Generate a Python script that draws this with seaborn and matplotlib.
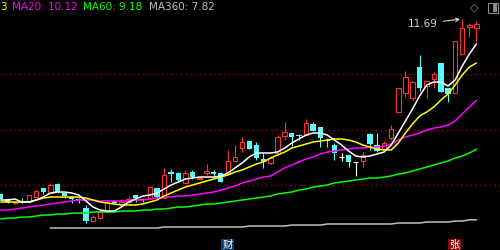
import numpy as np
import pandas as pd
import matplotlib
matplotlib.use("Agg")
import matplotlib.pyplot as plt
import seaborn as sns
from matplotlib.patches import Rectangle

# ---------------- data ----------------
opens = [8.318, 8.221, 8.144, 8.183, 8.163, 8.260, 8.433, 8.337, 8.510, 8.337,
         8.260, 8.221, 8.048, 7.797, 7.855, 7.990, 8.183, 8.125, 8.163, 8.298,
         8.230, 8.240, 8.433, 8.240, 8.733, 8.722, 8.530, 8.742, 8.607, 8.722,
         8.733, 8.722, 8.703, 8.954, 9.204, 9.339, 9.262, 8.992, 8.915, 9.108,
         9.435, 9.493, 9.464, 9.454, 9.667, 9.609, 9.350, 9.262, 9.040, 9.069,
         8.934, 8.954, 9.474, 9.262, 9.185, 9.397, 9.898, 10.264, 10.168, 10.765,
         10.399, 10.534, 10.842, 10.360, 10.264, 11.015, 11.536, 11.516]
highs = [8.337, 8.240, 8.183, 8.240, 8.298, 8.395, 8.433, 8.530, 8.530, 8.356,
         8.279, 8.240, 8.106, 7.913, 7.990, 8.163, 8.202, 8.221, 8.279, 8.298,
         8.240, 8.452, 8.433, 8.819, 8.799, 8.742, 8.780, 8.780, 8.645, 8.896,
         8.780, 8.742, 9.166, 9.262, 9.416, 9.339, 9.320, 9.127, 9.050, 9.454,
         9.705, 9.493, 9.474, 9.763, 9.705, 9.609, 9.397, 9.300, 9.108, 9.069,
         8.934, 9.127, 9.493, 9.493, 9.339, 9.647, 10.360, 10.688, 10.495, 10.996,
         10.495, 10.669, 10.842, 10.360, 11.266, 11.690, 11.613, 11.651]
lows = [8.202, 8.144, 8.125, 8.144, 8.163, 8.260, 8.318, 8.337, 8.337, 8.240,
        8.144, 8.144, 7.759, 7.797, 7.836, 7.990, 8.125, 8.125, 8.144, 8.163,
        8.163, 8.240, 8.240, 8.240, 8.549, 8.549, 8.530, 8.607, 8.588, 8.684,
        8.665, 8.549, 8.703, 8.954, 9.127, 9.185, 8.973, 8.819, 8.896, 9.108,
        9.358, 9.242, 9.358, 9.454, 9.532, 9.223, 9.223, 8.973, 8.960, 8.838,
        8.665, 8.838, 9.166, 9.127, 9.166, 9.358, 9.898, 10.187, 10.129, 10.302,
        10.168, 10.360, 10.283, 10.090, 10.264, 11.015, 11.343, 11.247]
closes = [8.221, 8.163, 8.163, 8.163, 8.298, 8.375, 8.356, 8.491, 8.356, 8.279,
          8.221, 8.202, 7.797, 7.874, 7.990, 8.163, 8.144, 8.163, 8.221, 8.240,
          8.210, 8.452, 8.260, 8.684, 8.713, 8.588, 8.722, 8.645, 8.626, 8.761,
          8.713, 8.549, 8.954, 9.031, 9.320, 9.185, 9.011, 8.934, 9.011, 9.416,
          9.512, 9.416, 9.445, 9.686, 9.532, 9.397, 9.330, 9.108, 9.040, 8.934,
          8.934, 9.069, 9.281, 9.146, 9.300, 9.570, 10.360, 10.572, 10.476, 10.360,
          10.495, 10.630, 10.283, 10.245, 11.266, 11.516, 11.574, 11.594]

ma5 = [8.202, 8.202, 8.221, 8.163, 8.163, 8.202, 8.260, 8.337, 8.356, 8.356,
       8.337, 8.298, 8.183, 8.067, 8.009, 7.990, 7.990, 8.067, 8.163, 8.221,
       8.279, 8.298, 8.337, 8.414, 8.491, 8.549, 8.607, 8.626, 8.645, 8.645,
       8.645, 8.665, 8.722, 8.819, 8.915, 9.031, 9.108, 9.108, 9.108, 9.127,
       9.204, 9.300, 9.378, 9.454, 9.493, 9.493, 9.454, 9.358, 9.262, 9.146,
       9.050, 9.031, 9.050, 9.088, 9.127, 9.262, 9.493, 9.724, 9.956, 10.206,
       10.418, 10.476, 10.476, 10.399, 10.514, 10.784, 11.015, 11.208]
ma10 = [8.163, 8.163, 8.163, 8.163, 8.163, 8.202, 8.240, 8.260, 8.260, 8.260,
        8.260, 8.260, 8.240, 8.202, 8.163, 8.144, 8.125, 8.106, 8.106, 8.106,
        8.125, 8.163, 8.202, 8.279, 8.337, 8.395, 8.452, 8.491, 8.530, 8.568,
        8.607, 8.645, 8.684, 8.742, 8.780, 8.838, 8.896, 8.934, 9.011, 9.069,
        9.127, 9.204, 9.242, 9.281, 9.320, 9.339, 9.358, 9.378, 9.378, 9.358,
        9.320, 9.262, 9.223, 9.185, 9.166, 9.166, 9.300, 9.493, 9.667, 9.821,
        9.898, 9.994, 10.129, 10.245, 10.418, 10.611, 10.765, 10.842]
ma20 = [8.009, 8.009, 8.028, 8.048, 8.067, 8.086, 8.106, 8.125, 8.144, 8.163,
        8.183, 8.202, 8.202, 8.202, 8.183, 8.183, 8.183, 8.183, 8.183, 8.202,
        8.202, 8.221, 8.240, 8.260, 8.260, 8.279, 8.279, 8.298, 8.318, 8.337,
        8.356, 8.395, 8.433, 8.472, 8.530, 8.568, 8.607, 8.645, 8.665, 8.742,
        8.819, 8.876, 8.934, 8.992, 9.031, 9.088, 9.127, 9.146, 9.166, 9.185,
        9.204, 9.204, 9.223, 9.223, 9.242, 9.281, 9.358, 9.416, 9.454, 9.493,
        9.551, 9.589, 9.609, 9.647, 9.724, 9.859, 9.994, 10.12]
ma60 = [7.836, 7.855, 7.855, 7.874, 7.874, 7.894, 7.913, 7.913, 7.932, 7.932,
        7.951, 7.951, 7.951, 7.971, 7.971, 7.971, 7.971, 7.990, 7.990, 7.990,
        8.009, 8.009, 8.028, 8.028, 8.048, 8.067, 8.067, 8.086, 8.106, 8.125,
        8.125, 8.144, 8.163, 8.183, 8.202, 8.221, 8.240, 8.260, 8.279, 8.318,
        8.337, 8.356, 8.395, 8.414, 8.452, 8.472, 8.491, 8.530, 8.549, 8.568,
        8.588, 8.607, 8.626, 8.626, 8.645, 8.665, 8.703, 8.722, 8.761, 8.799,
        8.838, 8.876, 8.915, 8.954, 9.011, 9.050, 9.108, 9.18]
ma360 = [np.nan] * 7 + [
        7.663, 7.663, 7.663, 7.663, 7.663, 7.663, 7.663, 7.663, 7.663, 7.663,
        7.663, 7.663, 7.663, 7.663, 7.663, 7.663, 7.682, 7.682, 7.682, 7.682,
        7.682, 7.682, 7.682, 7.682, 7.682, 7.682, 7.682, 7.682, 7.701, 7.701,
        7.701, 7.701, 7.701, 7.701, 7.720, 7.720, 7.720, 7.720, 7.720, 7.740,
        7.740, 7.740, 7.740, 7.740, 7.740, 7.740, 7.740, 7.740, 7.740, 7.759,
        7.759, 7.759, 7.759, 7.778, 7.778, 7.778, 7.778, 7.797, 7.797, 7.82, 7.82]

grid_levels = [10.63, 9.55, 8.49]
header_texts = ["3", "MA20: 10.12", "MA60: 9.18", "MA360: 7.82"]
peak_label = "11.69"
bottom_tags = ["财", "张"]

# ---------------- styling ----------------
sns.set_style("dark")
plt.rcParams["font.family"] = ["DejaVu Sans", "Noto Sans CJK SC"]

RED = "#ff3232"
CYAN = "#54fcfc"
BG = "black"

fig = plt.figure(figsize=(5, 2.5), dpi=100, facecolor=BG)
ax = fig.add_axes([0, 0, 1, 1])
ax.set_facecolor(BG)

n = len(closes)
idx = np.arange(n)
df = pd.DataFrame({"k": idx, "open": opens, "high": highs, "low": lows,
                   "close": closes, "ma5": ma5, "ma10": ma10, "ma20": ma20,
                   "ma60": ma60, "ma360": ma360})

# grid dotted lines
for lv in grid_levels:
    ax.axhline(lv, color="#b00000", lw=0.9, ls=(0, (1.2, 2.6)), zorder=1)

# candles
body_w = 0.64
for i, r in df.iterrows():
    o, h, l, c = r["open"], r["high"], r["low"], r["close"]
    if c > o:
        col = RED
    elif c < o:
        col = CYAN
    else:
        col = "white"
    ax.vlines(r["k"], l, h, color=col, lw=0.8, zorder=2)
    if c > o:
        ax.bar(r["k"], c - o, bottom=o, width=body_w, facecolor=BG,
               edgecolor=col, linewidth=0.8, zorder=3)
    elif c < o:
        ax.bar(r["k"], o - c, bottom=c, width=body_w + 0.1, facecolor=col,
               edgecolor=col, linewidth=0.0, zorder=3)
    else:
        ax.hlines(o, r["k"] - body_w / 2, r["k"] + body_w / 2, color=col,
                  lw=0.8, zorder=3)

# moving averages
line_specs = [("ma360", "#c0c0c0"), ("ma60", "#00ff00"), ("ma20", "#ff00ff"),
              ("ma10", "#ffff00"), ("ma5", "#ffffff")]
for col, colr in line_specs:
    sub = df[["k", col]].dropna()
    sns.lineplot(data=sub, x="k", y=col, color=colr, lw=1.1, ax=ax,
                 legend=False, zorder=4, estimator=None)

ax.set_xlim(-0.1, 70.32)
ax.set_ylim(7.239, 12.056)
ax.set_xticks([])
ax.set_yticks([])
ax.set_xlabel("")
ax.set_ylabel("")
for s in ax.spines.values():
    s.set_visible(False)
ax.grid(False)

# peak annotation
kmax = int(np.argmax(highs))
ax.annotate(peak_label, xy=(kmax, highs[kmax]), xytext=(-17.5, -3.3),
            textcoords="offset points", ha="right", va="center",
            color="#d0d0d0", fontsize=7.5,
            arrowprops=dict(arrowstyle="->", color="#d0d0d0", lw=0.8,
                            shrinkA=1.5, shrinkB=1.5, mutation_scale=6),
            zorder=6)

# header
W, H = 500.0, 250.0
header_x = [0, 12, 83, 149]
header_c = ["#ffff00", "#ff00ff", "#00ff00", "#c0c0c0"]
for t, x, c in zip(header_texts, header_x, header_c):
    fig.text(x / W, 1 - 6.5 / H, t, color=c, fontsize=7.5, ha="left",
             va="center")

# top-right icons
fig.text(474 / W, 1 - 7.5 / H, "◇", color="#8a8a8a", fontsize=8,
         ha="center", va="center")
fig.patches.append(Rectangle((487.5 / W, 1 - 13 / H), 10.5 / W, 10 / H,
                             transform=fig.transFigure, facecolor="none",
                             edgecolor="#8a8a8a", lw=0.8))
fig.patches.append(Rectangle((492.5 / W, 1 - 11.5 / H), 4 / W, 7 / H,
                             transform=fig.transFigure, facecolor="#8a8a8a",
                             edgecolor="none"))

# bottom tags
tag_x = [227.5, 454.5]
tag_bg = ["#0d3d6b", "#8a0c0c"]
for t, x, bg in zip(bottom_tags, tag_x, tag_bg):
    fig.text(x / W, 1 - 245 / H, t, color="white", fontsize=7.5,
             family=["Noto Sans CJK SC", "DejaVu Sans"], ha="center",
             va="center",
             bbox=dict(boxstyle="square,pad=0.12", facecolor=bg,
                       edgecolor="none"))

fig.savefig("out.png", dpi=100, facecolor=BG)
